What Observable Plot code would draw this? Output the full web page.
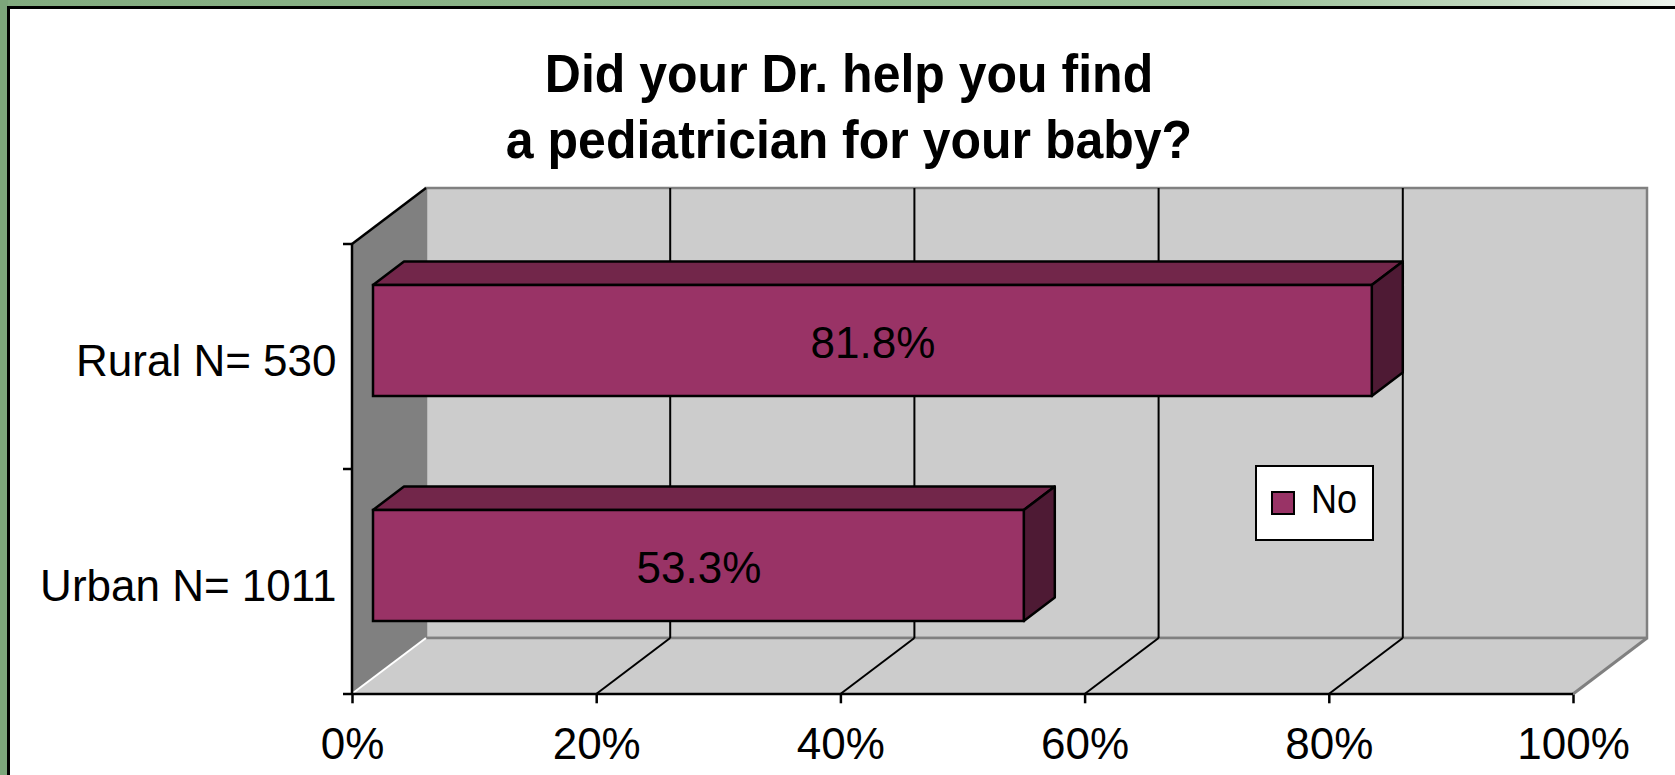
<!DOCTYPE html>
<html>
<head>
<meta charset="utf-8">
<script src="https://cdn.jsdelivr.net/npm/d3@7"></script>
<script src="https://cdn.jsdelivr.net/npm/@observablehq/plot@0.6"></script>
<style>
  html, body { margin: 0; padding: 0; background: #ffffff; }
  #page { position: relative; width: 1675px; height: 775px; overflow: hidden; background: #ffffff;
          font-family: "Liberation Sans", Arial, sans-serif; }
  #greenTop { position: absolute; left: 0; top: 0; width: 1675px; height: 7px;
          background: linear-gradient(to right, #82ab7f 0%, #8fb88c 45%, #9cc29a 75%, #c4dac2 90%, #eef4ee 100%); }
  #greenLeft { position: absolute; left: 0; top: 0; width: 8px; height: 775px; background: #7da67b; }
  #panel { position: absolute; left: 7px; top: 6px; right: -10px; bottom: -10px;
          border-left: 3px solid #000; border-top: 3px solid #000; background: #fff; }
  #chart { position: absolute; left: 0; top: 0; }
  #title { position: absolute; left: 349px; top: 40px; width: 1000px; text-align: center;
          font-family: "Liberation Sans", Arial, sans-serif; font-weight: bold; font-size: 54px;
          line-height: 66px; color: #000; transform: scaleX(0.926); transform-origin: 50% 0; }
  #legend { position: absolute; left: 1255px; top: 465px; width: 115px; height: 72px;
          border: 2px solid #000; background: #fff; }
  #legend .sw { position: absolute; left: 14px; top: 24px; width: 20px; height: 20px; border: 2px solid #000; }
  #legend .lab { position: absolute; left: 54px; top: 12px; font-size: 40px; line-height: 40px; color: #000;
          font-family: "Liberation Sans", Arial, sans-serif; transform: scaleX(0.9); transform-origin: 0 0; }
  svg [aria-label="x-axis tick"] path, svg [aria-label="x-axis"] .tick line { stroke-width: 2.5px; }
</style>
</head>
<body>
<div id="page">
  <div id="greenTop"></div>
  <div id="greenLeft"></div>
  <div id="panel"></div>
  <div id="chart"></div>
  <div id="title"></div>
  <div id="legend"></div>
</div>
<script>
// ---- data ----
const titleLines = ["Did your Dr. help you find", "a pediatrician for your baby?"];
const categories = ["Rural N= 530", "Urban N= 1011"];
const noValues = [81.8, 53.3];
const seriesName = "No";
const xTicks = [0, 20, 40, 60, 80, 100];
const xTickLabels = ["0%", "20%", "40%", "60%", "80%", "100%"];

// ---- styling ----
const COLOR_FRONT = "#993366";
const COLOR_TOP = "#72264a";
const COLOR_SIDE = "#4e1a34";
const WALL_SIDE = "#808080";
const WALL_BACK = "#cccccc";
const DEPTH = [74, -56];      // full depth of the 3D box (pixels)
const BAR_OFF = [21, -16];    // bar front plane offset
const BAR_DEPTH = [31, -23.5];// bar thickness
const INSET = 57;

const rows = categories.map((c, i) => ({category: c, value: noValues[i]}));

document.getElementById("title").innerHTML = titleLines.join("<br>");

function walls(index, scales, values, dims) {
  const x = scales.x, y = scales.y;
  const bw = y.bandwidth();
  const x0 = x(xTicks[0]), x1 = x(xTicks[xTicks.length - 1]);
  const yT = y(categories[0]), yB = y(categories[categories.length - 1]) + bw;
  const [ddx, ddy] = DEPTH;
  const g = d3.create("svg:g");
  // left wall
  g.append("path").attr("d", `M${x0},${yT}L${x0+ddx},${yT+ddy}L${x0+ddx},${yB+ddy}L${x0},${yB}Z`)
    .attr("fill", WALL_SIDE);
  // back wall
  g.append("rect").attr("x", x0+ddx).attr("y", yT+ddy).attr("width", x1-x0).attr("height", yB-yT)
    .attr("fill", WALL_BACK).attr("stroke", WALL_SIDE).attr("stroke-width", 2.5);
  // floor
  g.append("path").attr("d", `M${x0},${yB}L${x1},${yB}L${x1+ddx},${yB+ddy}L${x0+ddx},${yB+ddy}Z`)
    .attr("fill", WALL_BACK);
  g.append("line").attr("x1", x0+ddx).attr("x2", x1+ddx).attr("y1", yB+ddy).attr("y2", yB+ddy)
    .attr("stroke", WALL_SIDE).attr("stroke-width", 2.5);
  g.append("line").attr("x1", x1).attr("y1", yB).attr("x2", x1+ddx).attr("y2", yB+ddy)
    .attr("stroke", WALL_SIDE).attr("stroke-width", 3);
  g.append("line").attr("x1", x0+1).attr("y1", yB-1).attr("x2", x0+ddx).attr("y2", yB+ddy)
    .attr("stroke", "#ffffff").attr("stroke-width", 2);
  // gridlines (back wall + floor)
  for (const t of xTicks.slice(1, -1)) {
    const xt = x(t);
    g.append("line").attr("x1", xt+ddx).attr("x2", xt+ddx).attr("y1", yT+ddy).attr("y2", yB+ddy)
      .attr("stroke", "#000").attr("stroke-width", 2);
    g.append("line").attr("x1", xt).attr("y1", yB).attr("x2", xt+ddx).attr("y2", yB+ddy)
      .attr("stroke", "#000").attr("stroke-width", 2);
  }
  // left wall top edge
  g.append("line").attr("x1", x0).attr("y1", yT).attr("x2", x0+ddx).attr("y2", yT+ddy)
    .attr("stroke", "#000").attr("stroke-width", 2.5);
  // axis lines
  g.append("line").attr("x1", x0).attr("x2", x0).attr("y1", yT).attr("y2", yB)
    .attr("stroke", "#000").attr("stroke-width", 2.5);
  g.append("line").attr("x1", x0).attr("x2", x1).attr("y1", yB).attr("y2", yB)
    .attr("stroke", "#000").attr("stroke-width", 2.5);
  // category ticks at band boundaries
  const bounds = categories.map(c => y(c)).concat([yB]);
  for (const b of bounds) {
    g.append("line").attr("x1", x0-9).attr("x2", x0).attr("y1", b).attr("y2", b)
      .attr("stroke", "#000").attr("stroke-width", 2.5);
  }
  return g.node();
}

function barFaces(index, scales) {
  const x = scales.x, y = scales.y;
  const bw = y.bandwidth();
  const [ox, oy] = BAR_OFF, [bx, by] = BAR_DEPTH;
  const g = d3.create("svg:g");
  for (const d of rows) {
    const xl = x(0) + ox, xr = x(d.value) + ox;
    const yt = y(d.category) + INSET + oy, yb = y(d.category) + bw - INSET + oy;
    g.append("path").attr("d", `M${xl},${yt}L${xl+bx},${yt+by}L${xr+bx},${yt+by}L${xr},${yt}Z`)
      .attr("fill", COLOR_TOP).attr("stroke", "#000").attr("stroke-width", 2.5).attr("stroke-linejoin", "round");
    g.append("path").attr("d", `M${xr},${yt}L${xr+bx},${yt+by}L${xr+bx},${yb+by}L${xr},${yb}Z`)
      .attr("fill", COLOR_SIDE).attr("stroke", "#000").attr("stroke-width", 2.5).attr("stroke-linejoin", "round");
  }
  return g.node();
}

const hasAxisMarks = typeof Plot.axisY === "function";

const plot = Plot.plot({
  width: 1675,
  height: 775,
  marginLeft: 352,
  marginRight: 102,
  marginTop: 243.5,
  marginBottom: 80.7,
  style: {fontFamily: "'Liberation Sans', Arial, sans-serif", fontSize: "44px", background: "transparent", color: "#000", overflow: "visible"},
  x: {domain: [0, 100], ticks: xTicks, tickFormat: (d) => xTickLabels[xTicks.indexOf(d)], tickSize: 9, tickPadding: 24, label: null},
  y: {domain: categories, padding: 0, tickSize: 0, tickPadding: 16, label: null, axis: hasAxisMarks ? null : "left"},
  marks: [
    walls,
    barFaces,
    Plot.barX(rows, {x1: 0, x2: "value", y: "category", fill: COLOR_FRONT, stroke: "#000", strokeWidth: 2.5,
      insetTop: INSET, insetBottom: INSET, dx: BAR_OFF[0], dy: BAR_OFF[1]}),
    Plot.text(rows, {x: (d) => d.value / 2, y: "category", text: (d) => d.value.toFixed(1) + "%",
      dx: BAR_OFF[0], dy: BAR_OFF[1] + 3, fontSize: 44, fill: "#000"}),
    hasAxisMarks ? Plot.axisY({tickSize: 0, tickPadding: 16, dy: 5, label: null, fontSize: 44}) : null
  ]
});
document.getElementById("chart").appendChild(plot);

// legend
const lg = document.getElementById("legend");
lg.innerHTML = `<div class="sw" style="background:${COLOR_FRONT}"></div><div class="lab">${seriesName}</div>`;
</script>
</body>
</html>
